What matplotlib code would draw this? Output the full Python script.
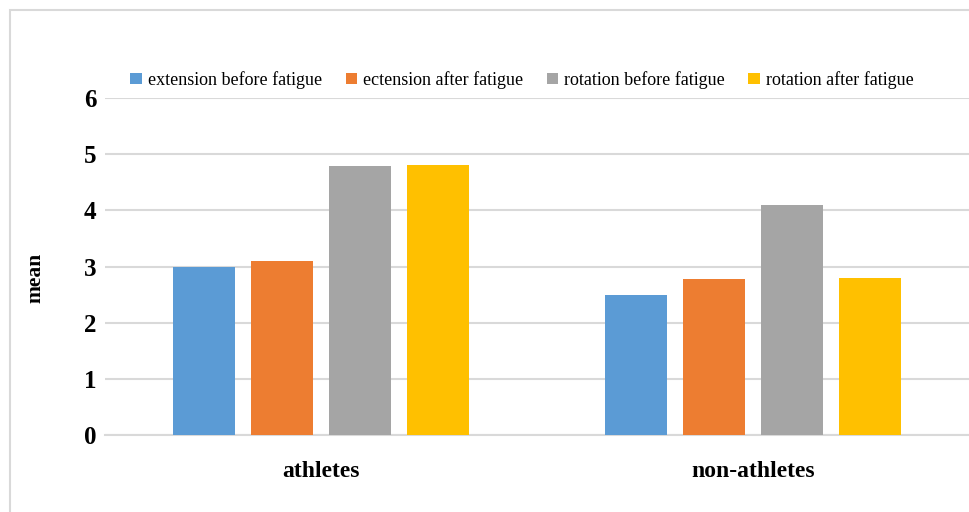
import numpy as np
import matplotlib.pyplot as plt
from matplotlib.patches import Rectangle

plt.rcParams['font.family'] = ['Liberation Serif', 'DejaVu Serif']

groups = ['athletes', 'non-athletes']
series = ['extension before fatigue', 'ectension after fatigue',
          'rotation before fatigue', 'rotation after fatigue']
ext_before = [3.00, 2.49]
ext_after = [3.10, 2.78]
rot_before = [4.79, 4.09]
rot_after = [4.81, 2.79]
colors = ['#5b9bd5', '#ed7d31', '#a5a5a5', '#ffc000']

fig = plt.figure(figsize=(9.69, 5.12), dpi=100)
W, H = 969, 512

# outer chart frame (runs off the right and bottom edges)
fig.patches.append(Rectangle((10 / W, -0.1), 1.2, 1 - 10 / H + 0.1,
                             transform=fig.transFigure, fill=False,
                             edgecolor='#d9d9d9', linewidth=1.5))

ax = fig.add_axes([105 / W, (H - 435) / H, (969 - 105) / W, (435 - 98) / H])

x = np.arange(len(groups))
width = 62 / 432
step = 78 / 432
values = [ext_before, ext_after, rot_before, rot_after]
for i, (vals, c, name) in enumerate(zip(values, colors, series)):
    ax.bar(x + (i - 1.5) * step, vals, width, color=c, label=name, zorder=3)

ax.set_xlim(-0.5, 1.5)
ax.set_ylim(0, 6)
ax.set_yticks(range(7))
ax.yaxis.grid(True, color='#d9d9d9', linewidth=1.5, zorder=0)
ax.set_axisbelow(True)
for s in ['top', 'right', 'left']:
    ax.spines[s].set_visible(False)
ax.spines['bottom'].set_color('#d9d9d9')
ax.spines['bottom'].set_linewidth(1.5)
ax.tick_params(axis='both', length=0)
ax.tick_params(axis='y', pad=6)
ax.tick_params(axis='x', pad=19)
ax.set_xticks(x)
ax.set_xticklabels(groups, fontsize=17, fontweight='bold')
for lab in ax.get_yticklabels():
    lab.set_fontsize(18)
    lab.set_fontweight('bold')

fig.text(35 / W, 1 - 278 / H, 'mean', rotation=90, ha='center', va='center',
         fontsize=15.5, fontweight='bold')

fig.legend(loc='center', bbox_to_anchor=(522 / W, 1 - 80 / H), ncol=4,
           frameon=False, fontsize=13, handlelength=0.62, handleheight=0.62,
           handletextpad=0.35, columnspacing=1.3)

fig.savefig('out.png', dpi=100)
